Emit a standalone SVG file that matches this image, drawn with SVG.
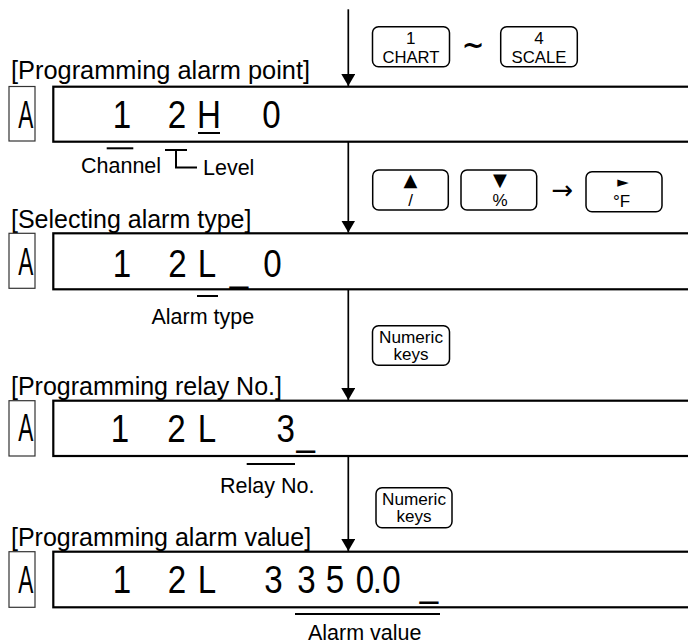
<svg xmlns="http://www.w3.org/2000/svg" width="688" height="644" viewBox="0 0 688 644">
<defs>
<marker id="ah" markerUnits="userSpaceOnUse" markerWidth="12" markerHeight="14" viewBox="0 0 12 14" refX="12" refY="7" orient="auto">
<path d="M0,0 L12,7 L0,14 z" fill="#000"/>
</marker>
<style>
.hdr{font-family:"Liberation Sans",Arial,sans-serif;font-size:25px;fill:#000}
.lbl{font-family:"Liberation Sans",Arial,sans-serif;font-size:21.5px;fill:#000}
.kt{font-family:"Liberation Sans",Arial,sans-serif;font-size:17px;fill:#000;text-anchor:middle}
.sym{font-family:"DejaVu Sans","Liberation Sans",sans-serif;fill:#000;text-anchor:middle}
.seg{font-family:"Liberation Sans",Arial,sans-serif;font-size:39px;fill:#000;text-anchor:middle}
.abox{fill:#fff;stroke:#333;stroke-width:1.2}
.dbox{fill:#fff;stroke:#000;stroke-width:2.2}
.key{fill:#fff;stroke:#000;stroke-width:1.5}
.mk{stroke:#000;stroke-width:2;fill:none}
.conn{stroke:#000;stroke-width:1.7;fill:none;marker-end:url(#ah)}
</style>
</defs>
<rect width="688" height="644" fill="#fff"/>

<g id="connectors">
<line class="conn" x1="348.3" y1="9.3" x2="348.3" y2="86"/>
<line class="conn" x1="348.3" y1="142" x2="348.3" y2="232.6"/>
<line class="conn" x1="348.3" y1="290" x2="348.3" y2="400"/>
<line class="conn" x1="348.3" y1="456.5" x2="348.3" y2="551"/>
</g>

<g id="row1">
<text class="hdr" x="11" y="79" textLength="299" lengthAdjust="spacingAndGlyphs">[Programming alarm point]</text>
<rect class="abox" x="9" y="86.5" width="26" height="54.5"/>
<rect class="dbox" x="53.3" y="86.7" width="660" height="55"/>
<g transform="scale(0.58,1)"><text class="seg" x="44.5" y="128">A</text></g>
<g transform="scale(0.85,1)"><text class="seg" x="143.5 176.5 208.2 245.9 282.4 319.4" y="128">1 2H 0</text></g>
<line class="mk" x1="198" y1="133" x2="220" y2="133" stroke-width="2.5"/>
</g>

<g id="row2">
<text class="hdr" x="11" y="227.5">[Selecting alarm type]</text>
<rect class="abox" x="9" y="233.3" width="26" height="55"/>
<rect class="dbox" x="53.3" y="233.3" width="660" height="56"/>
<g transform="scale(0.58,1)"><text class="seg" x="44.5" y="275">A</text></g>
<g transform="scale(0.85,1)"><text class="seg" x="143.5 176.5 208.8 243.5 281.2 320.6" y="277 277 277 277 281 277">1 2L_0</text></g>
</g>

<g id="row3">
<text class="hdr" x="11" y="394.5">[Programming relay No.]</text>
<rect class="abox" x="9" y="400.7" width="26" height="55.3"/>
<rect class="dbox" x="53.3" y="400.7" width="660" height="55.3"/>
<g transform="scale(0.58,1)"><text class="seg" x="44.5" y="441">A</text></g>
<g transform="scale(0.85,1)"><text class="seg" x="141.2 176.5 207.6 243.5 290.6 336.2 359.8" y="442 442 442 442 442 442 445">1 2L 3_</text></g>
</g>

<g id="row4">
<text class="hdr" x="11" y="545.5">[Programming alarm value]</text>
<rect class="abox" x="9" y="551.7" width="26" height="55.6"/>
<rect class="dbox" x="53.3" y="551.7" width="660" height="55.6"/>
<g transform="scale(0.58,1)"><text class="seg" x="44.5" y="593">A</text></g>
<g transform="scale(0.85,1)"><text class="seg" x="143.5 176.5 208.2 243.5 282.4 321.8 360.6 394.1 429.4 444.1 460.6 504.7" y="593 593 593 593 593 593 593 593 593 593 593 596">1 2L 3350.0_</text></g>
</g>

<g id="label-channel">
<line class="mk" x1="106.7" y1="148.3" x2="133.3" y2="148.3"/>
<text class="lbl" x="81" y="173" font-size="21">Channel</text>
</g>
<g id="label-level">
<path class="mk" d="M165,150 H187 M176,150 V167.5 H197" stroke-width="1.6"/>
<text class="lbl" x="203" y="175" font-size="21">Level</text>
</g>
<g id="label-alarm-type">
<line class="mk" x1="197" y1="296" x2="218" y2="296"/>
<text class="lbl" x="151.5" y="323.5">Alarm type</text>
</g>
<g id="label-relay">
<line class="mk" x1="246.7" y1="464" x2="295" y2="464"/>
<text class="lbl" x="220" y="492.7">Relay No.</text>
</g>
<g id="label-value">
<line class="mk" x1="295" y1="614" x2="440" y2="614"/>
<text class="lbl" x="308" y="639.5" font-size="21">Alarm value</text>
</g>

<g id="key-chart">
<rect class="key" x="372.5" y="26.7" width="77" height="40" rx="6"/>
<text class="kt" x="410.8" y="43.5" font-size="16.5">1</text>
<text class="kt" x="411" y="63" textLength="57" lengthAdjust="spacingAndGlyphs" font-size="20.5">CHART</text>
</g>
<text id="tilde" class="sym" x="473" y="54" font-size="27" font-weight="bold">~</text>
<g id="key-scale">
<rect class="key" x="500.7" y="26.7" width="76.6" height="40" rx="6"/>
<text class="kt" x="539" y="43.5" font-size="16.5">4</text>
<text class="kt" x="539" y="63" textLength="55" lengthAdjust="spacingAndGlyphs" font-size="20.5">SCALE</text>
</g>

<g id="key-up">
<rect class="key" x="372.7" y="170" width="75.6" height="40" rx="6"/>
<text class="sym" x="410.5" y="186" font-size="18">▲</text>
<text class="kt" x="410.5" y="206">/</text>
</g>
<g id="key-down">
<rect class="key" x="461" y="170" width="75.7" height="40" rx="6"/>
<text class="sym" x="500" y="185.5" font-size="18">▼</text>
<text class="kt" x="500" y="206">%</text>
</g>
<text id="then" class="sym" x="562.5" y="199" font-size="26">→</text>
<g id="key-right">
<rect class="key" x="586" y="171.7" width="76" height="40" rx="6"/>
<text class="sym" x="623" y="187" font-size="15">►</text>
<text class="kt" x="621.5" y="206.5">°F</text>
</g>

<g id="key-numeric-1">
<rect class="key" x="372.5" y="325.7" width="77" height="39.5" rx="6"/>
<text class="kt" x="411" y="342.5" font-size="13" textLength="64" lengthAdjust="spacingAndGlyphs">Numeric</text>
<text class="kt" x="411" y="359.7" font-size="13">keys</text>
</g>
<g id="key-numeric-2">
<rect class="key" x="376" y="487.7" width="76" height="40" rx="6"/>
<text class="kt" x="414" y="504.5" font-size="13" textLength="64" lengthAdjust="spacingAndGlyphs">Numeric</text>
<text class="kt" x="414" y="521.7" font-size="13">keys</text>
</g>
</svg>
